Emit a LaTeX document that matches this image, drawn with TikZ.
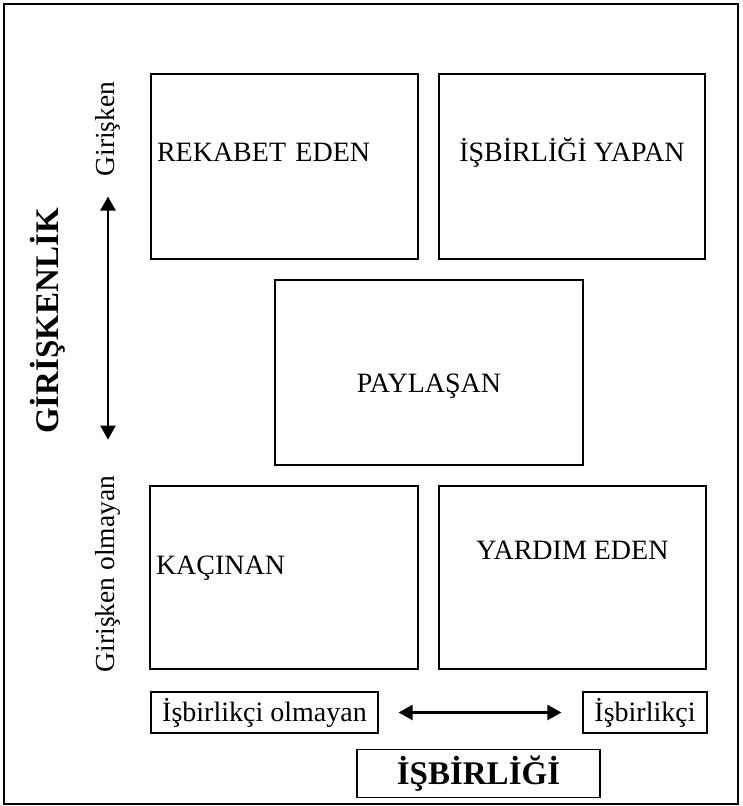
\documentclass[tikz,border=0pt]{standalone}
\usepackage{fontspec}
\setmainfont{Liberation Serif}
\usetikzlibrary{arrows.meta}
\tikzset{lift/.style = {text height=18pt, text depth=#1}}

\begin{document}
\begin{tikzpicture}[x=1pt,y=-1pt]
        \tikzset{box/.style = {draw, line width=1.2pt, inner sep=6pt, font=\fontsize{28}{31}\selectfont}}
        \tikzset{big/.style = {box, minimum width=267pt, minimum height=185pt}}
        \tikzset{side/.style = {rotate=90, inner sep=0pt, font=\fontsize{27.5}{30}\selectfont}}
        \tikzset{title/.style = {font=\bfseries\fontsize{33}{36}\selectfont}}
        \tikzset{arr/.style = {{Triangle[width=15pt,length=14pt]}-{Triangle[width=15pt,length=14pt]}, line width=2.4pt}}
        \useasboundingbox (0,0) rectangle (742,806);
        \draw[line width=1.2pt] (4,4) rectangle (738,804);
        % quadrants
        \node[big, text width=255pt, align=left, lift=29pt] (rek) at (284.5,166.5) {REKABET EDEN};
        \node[big, minimum width=266pt, lift=29pt] (yap) at (572,166.5) {İŞBİRLİĞİ YAPAN};
        \node[big, minimum width=308pt, text height=39pt, text depth=0pt] (pay) at (429,372.5) {PAYLAŞAN};
        \node[big, minimum height=183pt, text width=256pt, align=left, lift=25pt] (kac) at (284,577.5) {KAÇINAN};
        \node[big, minimum height=183pt, lift=55pt] (yar) at (572.5,577.5) {YARDIM EDEN};
        % axes
        \node[side] (gir) at (108,129) {Girişken};
        \node[side] (giro) at (108,574) {Girişken olmayan};
        \node[title, rotate=90] (girt) at (48,321) {GİRİŞKENLİK};
        \node[box, minimum width=227pt, minimum height=41pt] (olm) at (264.5,712.5) {İşbirlikçi olmayan};
        \node[box, minimum width=124pt, minimum height=41pt] (isb) at (645,712.5) {İşbirlikçi};
        \node[box, title, minimum width=243pt, minimum height=43pt] (isbt) at (478.5,773.5) {İŞBİRLİĞİ};
        % arrows
        \draw[arr, shorten <=20pt, shorten >=36pt] (gir) -- (giro);
        \draw[arr, shorten <=20pt, shorten >=21pt] (olm) -- (isb);
\end{tikzpicture}
\end{document}
